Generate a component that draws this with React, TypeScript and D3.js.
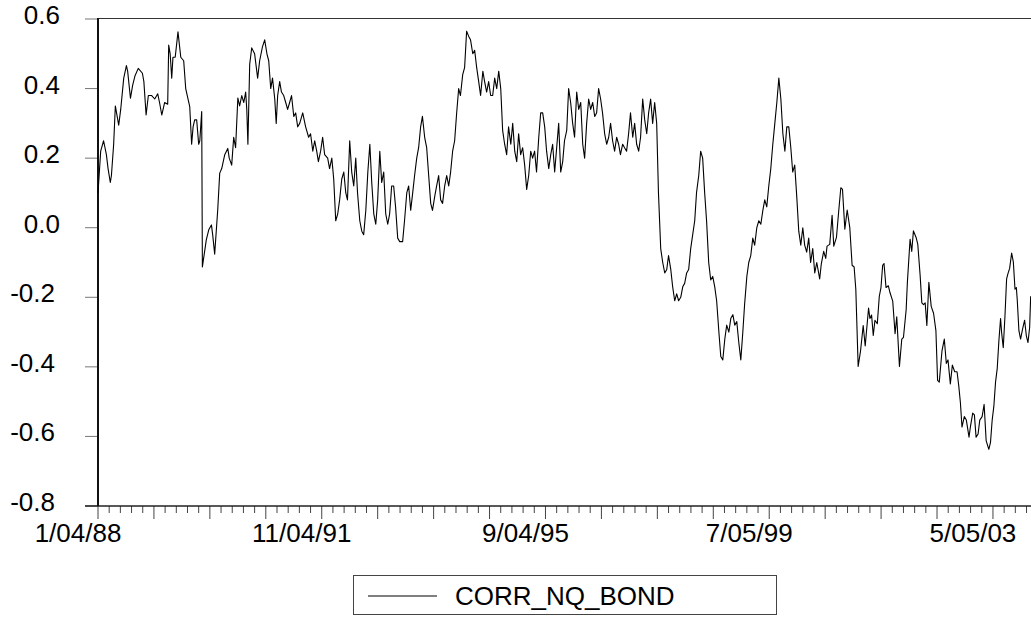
import React, { useEffect, useRef } from 'react'
import * as d3 from 'd3'

// weekly observations, week 0 = 1/04/88  [week, correlation]
const CORR_NQ_BOND: [number, number][] = [
  [0, 0.1], [2.4, 0.22], [5, 0.25], [7.5, 0.21], [9, 0.17], [11, 0.13], [12, 0.15], [14, 0.24], [15.5, 0.35],
  [18.5, 0.295], [20.3, 0.34], [23, 0.43], [25.4, 0.466], [26.5, 0.45], [29, 0.372], [31, 0.41], [33, 0.436],
  [36, 0.458], [39.7, 0.444], [41, 0.42], [43, 0.324], [45, 0.38], [48, 0.38], [50.7, 0.37], [53.4, 0.385],
  [55, 0.36], [57, 0.324], [59.6, 0.36], [62.3, 0.355], [63.2, 0.525], [64.5, 0.5], [65.9, 0.43], [67, 0.49],
  [69, 0.49], [71.5, 0.563], [74, 0.49], [76.6, 0.48], [78.4, 0.4], [82, 0.348], [83.7, 0.24], [85, 0.29],
  [86.4, 0.31], [88.2, 0.31], [90, 0.24], [91, 0.25], [92.7, 0.334], [93.3, -0.113], [96.8, -0.035],
  [99, -0.006], [101.4, 0.008], [102.5, -0.02], [104.3, -0.076], [107, 0.05], [108.8, 0.157], [110.6, 0.17],
  [113.3, 0.21], [116, 0.228], [117.3, 0.2], [119.5, 0.18], [121.3, 0.26], [123, 0.23], [125, 0.373],
  [126.6, 0.35], [128.5, 0.38], [130.3, 0.36], [132, 0.39], [133, 0.34], [134, 0.24], [135.6, 0.47],
  [137.4, 0.517], [140, 0.5], [142.7, 0.43], [144.5, 0.48], [147, 0.52], [149, 0.54], [151, 0.5], [152.6, 0.48],
  [154.4, 0.4], [156, 0.43], [158, 0.37], [159.3, 0.3], [160.6, 0.38], [162.4, 0.42], [164, 0.39], [166, 0.38],
  [167.8, 0.36], [169.5, 0.34], [171.3, 0.36], [173, 0.38], [175, 0.32], [176.7, 0.33], [178.5, 0.29],
  [180.3, 0.3], [183, 0.33], [185.6, 0.29], [188.3, 0.26], [190, 0.27], [192, 0.22], [193.7, 0.25],
  [195.5, 0.22], [197, 0.19], [199, 0.22], [200.8, 0.26], [202.6, 0.21], [205.3, 0.2], [207, 0.17], [209, 0.2],
  [210.7, 0.14], [212.5, 0.02], [214.3, 0.04], [216, 0.08], [217.9, 0.14], [219.7, 0.16], [221.5, 0.1],
  [223, 0.08], [225, 0.25], [226.8, 0.16], [228.6, 0.12], [230.4, 0.2], [232, 0.1], [234, 0.02], [235.8, -0.01],
  [237.5, -0.02], [239.4, 0.05], [241.2, 0.16], [243, 0.24], [244.7, 0.13], [246.5, 0.04], [248.3, 0.01],
  [250, 0.08], [251.9, 0.22], [253.6, 0.13], [255.4, 0.16], [257.2, 0.04], [259, 0.01], [260.7, 0.04],
  [262.5, 0.12], [264.3, 0.12], [266, 0.06], [267.9, -0.03], [269.7, -0.04], [272.3, -0.04], [274, 0.02],
  [276, 0.1], [277.7, 0.12], [279.5, 0.05], [281.3, 0.1], [283, 0.15], [284.9, 0.2], [286.6, 0.23],
  [288.4, 0.29], [290, 0.32], [292, 0.26], [293.8, 0.23], [295.6, 0.15], [297.4, 0.07], [299, 0.05],
  [301, 0.09], [302.7, 0.12], [304.5, 0.15], [306.3, 0.08], [308, 0.07], [309.9, 0.12], [311.7, 0.15],
  [313.5, 0.12], [315.2, 0.16], [317, 0.22], [318.8, 0.25], [320.6, 0.33], [322.4, 0.4], [324, 0.38],
  [326, 0.44], [327.7, 0.46], [329.5, 0.565], [331.4, 0.55], [333, 0.54], [335, 0.5], [336.7, 0.51],
  [338.5, 0.46], [340.3, 0.42], [342, 0.38], [344, 0.45], [345.6, 0.42], [347.4, 0.39], [349.2, 0.42],
  [351, 0.38], [352.8, 0.38], [354.6, 0.43], [356.4, 0.4], [358.2, 0.45], [360, 0.4], [361.7, 0.28],
  [363.5, 0.24], [365.3, 0.21], [367, 0.29], [369, 0.24], [370.7, 0.3], [372.5, 0.22], [374.3, 0.19],
  [376, 0.27], [377.8, 0.21], [379.6, 0.23], [381.4, 0.18], [383.2, 0.11], [385, 0.15], [386.8, 0.22],
  [388.5, 0.2], [390.3, 0.22], [392, 0.16], [394, 0.26], [395.7, 0.33], [397.5, 0.33], [399.3, 0.29],
  [401, 0.22], [402.9, 0.17], [404.7, 0.21], [406.4, 0.24], [408.2, 0.16], [410, 0.23], [411.8, 0.3],
  [413.6, 0.16], [415.4, 0.19], [417, 0.25], [419, 0.28], [420.7, 0.4], [422.5, 0.36], [424.3, 0.3],
  [426, 0.26], [427.9, 0.39], [429.7, 0.34], [431.5, 0.36], [433.3, 0.24], [435, 0.2], [436.8, 0.3],
  [438.6, 0.37], [440.4, 0.34], [442.2, 0.36], [444, 0.32], [445.7, 0.33], [447.5, 0.4], [449.3, 0.37],
  [451, 0.33], [452.9, 0.27], [454.7, 0.24], [456.5, 0.26], [458.2, 0.3], [460, 0.25], [461.8, 0.22],
  [463.6, 0.26], [465.4, 0.24], [467, 0.21], [469, 0.24], [470.7, 0.23], [472.5, 0.22], [474.3, 0.27],
  [476, 0.33], [478, 0.26], [479.7, 0.3], [481.5, 0.24], [483.3, 0.22], [485, 0.26], [486.9, 0.37],
  [488.7, 0.31], [490.5, 0.27], [492.2, 0.33], [494, 0.37], [495.8, 0.3], [497.6, 0.36], [499.4, 0.3],
  [501, 0.1], [503, -0.06], [504.8, -0.1], [506.6, -0.13], [508.4, -0.12], [510, -0.08], [512, -0.12],
  [513.7, -0.17], [515.5, -0.21], [517.3, -0.19], [519, -0.21], [520.9, -0.2], [522.7, -0.17], [524.4, -0.16],
  [526.2, -0.13], [528, -0.12], [529.8, -0.06], [531.6, -0.02], [533.4, 0.02], [535, 0.1], [537, 0.15],
  [538.7, 0.22], [540.5, 0.2], [542.3, 0.1], [544, 0.02], [545.9, -0.1], [547.7, -0.15], [549.5, -0.14],
  [551.3, -0.17], [553, -0.21], [555, -0.3], [556.7, -0.37], [558.5, -0.38], [560.3, -0.32], [562, -0.28],
  [563.9, -0.3], [565.7, -0.26], [567.5, -0.25], [569.2, -0.28], [571, -0.27], [572.8, -0.33], [574.6, -0.38],
  [576.4, -0.3], [578, -0.22], [580, -0.14], [581.7, -0.1], [583.5, -0.08], [585.3, -0.03], [587, -0.05],
  [588.9, 0.0], [590.7, 0.02], [592.5, 0.01], [594.3, 0.05], [596, 0.08], [597.8, 0.06], [599.6, 0.12],
  [601.4, 0.17], [603.2, 0.24], [605, 0.3], [606.8, 0.36], [608.6, 0.43], [610.4, 0.37], [612.2, 0.27],
  [614, 0.22], [615.7, 0.29], [617.5, 0.29], [619.3, 0.23], [621, 0.16], [622.8, 0.18], [624.6, 0.09],
  [626.4, -0.01], [628.2, -0.05], [630, 0.0], [631.7, -0.05], [633.5, -0.07], [635.3, -0.03], [637, -0.1],
  [638.9, -0.06], [640.7, -0.13], [642.5, -0.1], [645.1, -0.147], [646.6, -0.103], [648.7, -0.068],
  [650.5, -0.088], [651.7, -0.053], [654.1, -0.048], [656.2, 0.036], [657.7, -0.053], [660.1, -0.028],
  [662.2, 0.051], [664, 0.115], [665.5, 0.11], [667.6, -0.004], [669.7, 0.051], [672, 0.001], [674.1, -0.108],
  [675.9, -0.113], [677.4, -0.177], [679.5, -0.399], [681.6, -0.355], [684, -0.281], [685.8, -0.34],
  [688.8, -0.231], [690, -0.261], [691.5, -0.251], [693, -0.31], [694.5, -0.266], [696.6, -0.276],
  [698.4, -0.197], [699.9, -0.172], [701.4, -0.108], [702.6, -0.103], [704.4, -0.172], [706.5, -0.167],
  [708, -0.187], [710.4, -0.211], [712.5, -0.305], [714, -0.256], [716.4, -0.399], [718.5, -0.32],
  [720, -0.315], [722.4, -0.236], [723.5, -0.157], [725.9, -0.033], [727.4, -0.068], [728.9, -0.009],
  [731.3, -0.028], [732.8, -0.048], [734.9, -0.137], [736.4, -0.216], [737.9, -0.221], [739.4, -0.216],
  [740.9, -0.281], [742.7, -0.157], [744.8, -0.226], [746.9, -0.246], [749, -0.296], [750.5, -0.439],
  [752, -0.444], [754.4, -0.355], [756.5, -0.32], [758.3, -0.39], [759.8, -0.38], [761.9, -0.449],
  [763.7, -0.395], [765.8, -0.414], [767.9, -0.414], [769.4, -0.454], [770.9, -0.503], [772.3, -0.573],
  [774.4, -0.543], [776.2, -0.553], [778.6, -0.602], [779.8, -0.573], [781.9, -0.533], [783.4, -0.538],
  [784.9, -0.602], [786.7, -0.593], [788.2, -0.553], [790.3, -0.543], [792.1, -0.508], [793.9, -0.612],
  [796.3, -0.637], [797.8, -0.617], [799.3, -0.553], [800.8, -0.513], [802.3, -0.444], [803.8, -0.405],
  [805.3, -0.325], [806.8, -0.261], [807.7, -0.3], [809.2, -0.345], [810.7, -0.256], [812.2, -0.147],
  [813.4, -0.132], [814.9, -0.117], [816.7, -0.073], [818.2, -0.098], [819.7, -0.177], [820.9, -0.172],
  [821.7, -0.207], [823.2, -0.296], [824.7, -0.32], [826.5, -0.291], [828.3, -0.266], [829.8, -0.31],
  [831.3, -0.33], [832.8, -0.286], [833.7, -0.197],
]

const yTicks = [0.6, 0.4, 0.2, 0.0, -0.2, -0.4, -0.6, -0.8]
const xLabels = ['1/04/88', '11/04/91', '9/04/95', '7/05/99', '5/05/03']
const xLabelWeeks = [0, 200, 400, 600, 800]
const lastWeek = 834

const FONT = '"Liberation Sans", Arial, sans-serif'

const App = () => {
  const ref = useRef<SVGSVGElement>(null)

  useEffect(() => {
    if (!ref.current) return
    const svg = d3.select(ref.current)
    svg.selectAll('*').remove()

    const left = 98
    const right = 1031
    const top = 19
    const bottom = 506

    const x = d3.scaleLinear().domain([0, lastWeek]).range([left, right])
    const y = d3.scaleLinear().domain([-0.8, 0.6]).range([bottom, top])

    // frame
    svg.append('line').attr('x1', left).attr('x2', right).attr('y1', top - 0.5).attr('y2', top - 0.5)
      .attr('stroke', '#333').attr('stroke-width', 1)

    // y ticks + labels
    const yg = svg.append('g')
    yTicks.forEach((t) => {
      yg.append('line').attr('x1', 85).attr('x2', left).attr('y1', y(t)).attr('y2', y(t))
        .attr('stroke', '#777').attr('stroke-width', 1)
      yg.append('text').attr('x', t < 0 ? 55 : 60).attr('y', y(t) + 5)
        .attr('text-anchor', 'end').attr('font-family', FONT).attr('font-size', 26)
        .text(t.toFixed(1))
    })

    // x ticks
    const xg = svg.append('g')
    d3.range(0, lastWeek, 10).forEach((w) => {
      const major = w % 50 === 0
      xg.append('line').attr('x1', x(w)).attr('x2', x(w)).attr('y1', bottom).attr('y2', bottom + (major ? 13 : 7))
        .attr('stroke', '#444').attr('stroke-width', 1)
    })
    xLabels.forEach((lab, i) => {
      xg.append('text').attr('x', x(xLabelWeeks[i]) - 20).attr('y', 542)
        .attr('text-anchor', 'middle').attr('font-family', FONT).attr('font-size', 26)
        .text(lab)
    })

    // axes lines
    svg.append('line').attr('x1', 85).attr('x2', right).attr('y1', bottom).attr('y2', bottom)
      .attr('stroke', '#222').attr('stroke-width', 1.5)
    svg.append('line').attr('x1', left).attr('x2', left).attr('y1', top - 1).attr('y2', bottom)
      .attr('stroke', '#111').attr('stroke-width', 2)

    // series
    const line = d3.line<[number, number]>().x((d) => x(d[0])).y((d) => y(d[1]))
    svg.append('path').datum(CORR_NQ_BOND).attr('d', line).attr('fill', 'none')
      .attr('stroke', '#000').attr('stroke-width', 1.1).attr('stroke-linejoin', 'round')

    // legend
    const lg = svg.append('g')
    lg.append('rect').attr('x', 353.5).attr('y', 575.5).attr('width', 423).attr('height', 39)
      .attr('fill', 'white').attr('stroke', '#444').attr('stroke-width', 1)
    lg.append('line').attr('x1', 368).attr('x2', 437).attr('y1', 596).attr('y2', 596)
      .attr('stroke', '#000').attr('stroke-width', 1)
    lg.append('text').attr('x', 455).attr('y', 605).attr('font-family', FONT).attr('font-size', 26)
      .text('CORR_NQ_BOND')
  }, [])

  return (
    <div style={{ position: 'absolute', left: 0, top: 0 }}>
      <svg ref={ref} width={1031} height={618} style={{ display: 'block', background: 'white' }} />
    </div>
  )
}

export default App
